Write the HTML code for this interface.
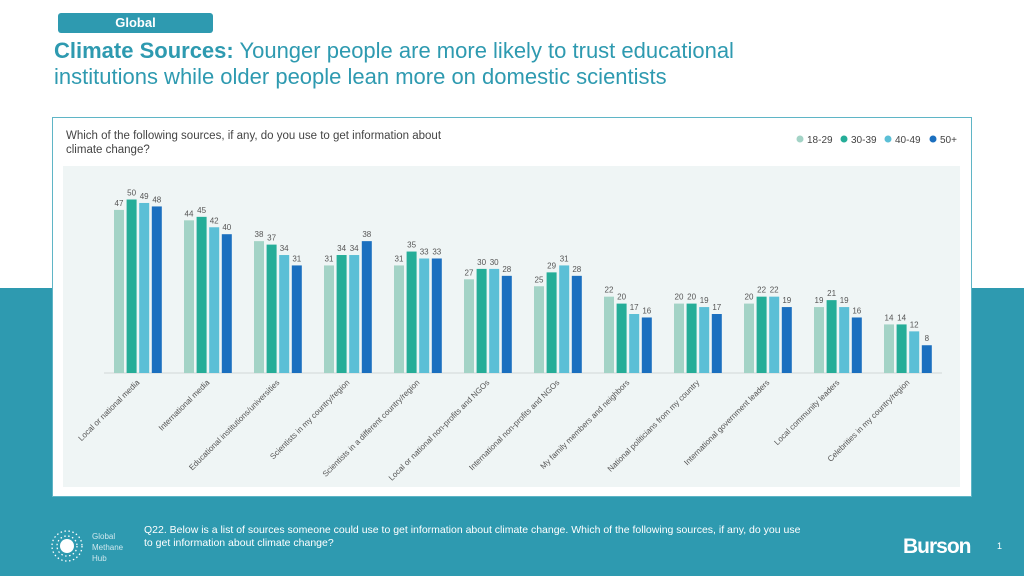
<!DOCTYPE html>
<html><head><meta charset="utf-8"><style>
body{margin:0;width:1024px;height:576px;position:relative;overflow:hidden;background:#fff;font-family:"Liberation Sans",sans-serif}
.band{position:absolute;left:0;top:288px;width:1024px;height:288px;background:#2e9ab0}
.pill{position:absolute;left:58px;top:13px;width:155px;height:20px;background:#2e9ab0;border-radius:3px;color:#fff;font-weight:bold;font-size:13px;text-align:center;line-height:20px}
.title{position:absolute;left:54px;top:38px;font-size:22px;color:#2e9ab0;line-height:26px;width:745px}
.card{position:absolute;left:52px;top:117px;width:918px;height:378px;background:#fff;border:1px solid #5fb5c6}
.q{position:absolute;left:66px;top:129px;font-size:11.5px;color:#444;line-height:14px;width:400px}
.foot{position:absolute;left:144px;top:524px;font-size:10.5px;color:#fff;line-height:13px;width:760px;white-space:nowrap}
.burson{position:absolute;left:903px;top:535px;font-size:21px;font-weight:bold;color:#fff;letter-spacing:-1px}
.pg{position:absolute;left:997px;top:541px;font-size:9px;color:#fff}
</style></head><body>
<div class="band"></div>
<div class="pill">Global</div>
<div class="title"><b>Climate Sources:</b> Younger people are more likely to trust educational institutions while older people lean more on domestic scientists</div>
<div class="card"></div>
<div class="q">Which of the following sources, if any, do you use to get information about climate change?</div>
<svg style="position:absolute;left:0;top:0" width="1024" height="576" font-family="Liberation Sans, sans-serif">
<rect x="63" y="166" width="897" height="321" fill="#eff5f5"/>
<g font-size="10" fill="#444">
<circle cx="800" cy="139" r="3.5" fill="#a3d3c6"/><text x="807" y="143">18-29</text>
<circle cx="844" cy="139" r="3.5" fill="#25ad98"/><text x="851" y="143">30-39</text>
<circle cx="888" cy="139" r="3.5" fill="#5bbfd6"/><text x="895" y="143">40-49</text>
<circle cx="933" cy="139" r="3.5" fill="#1b6fbf"/><text x="940" y="143">50+</text>
</g>
<line x1="104" y1="373" x2="942" y2="373" stroke="#d0d6d6"/>
<g id="bars" font-size="8" fill="#555" text-anchor="middle"></g>
<g id="labels" font-size="8" fill="#555" text-anchor="end"></g>
<g fill="none" stroke="#fff" stroke-dasharray="1.5 2.5" stroke-width="1.3"><circle cx="67" cy="546" r="10"/><circle cx="67" cy="546" r="15"/></g>
<circle cx="67" cy="546" r="7" fill="#fff"/>
<g font-size="8" fill="#cfe8ee"><text x="92" y="539">Global</text><text x="92" y="550">Methane</text><text x="92" y="561">Hub</text></g>
</svg>
<div class="foot">Q22. Below is a list of sources someone could use to get information about climate change. Which of the following sources, if any, do you use<br>to get information about climate change?</div>
<div class="burson">Burson</div>
<div class="pg">1</div>
<script>
var d=[[47,50,49,48],[44,45,42,40],[38,37,34,31],[31,34,34,38],[31,35,33,33],[27,30,30,28],[25,29,31,28],[22,20,17,16],[20,20,19,17],[20,22,22,19],[19,21,19,16],[14,14,12,8]];
var L=["Local or national media","International media","Educational institutions/universities","Scientists in my country/region","Scientists in a different country/region","Local or national non-profits and NGOs","International non-profits and NGOs","My family members and neighbors","National politicians from my country","International government leaders","Local community leaders","Celebrities in my country/region"];
var c=["#a3d3c6","#25ad98","#5bbfd6","#1b6fbf"],s="",t="";
d.forEach(function(g,i){var x0=114+i*70;g.forEach(function(v,j){var x=x0+j*12.6,h=v*3.47;s+='<rect x="'+x+'" y="'+(373-h)+'" width="10" height="'+h+'" fill="'+c[j]+'"/><text x="'+(x+5)+'" y="'+(373-h-4)+'">'+v+'</text>';});
var cx=x0+26;t+='<text transform="translate('+cx+',383) rotate(-45)">'+L[i]+'</text>';});
document.getElementById("bars").innerHTML=s;document.getElementById("labels").innerHTML=t;
</script>
</body></html>
